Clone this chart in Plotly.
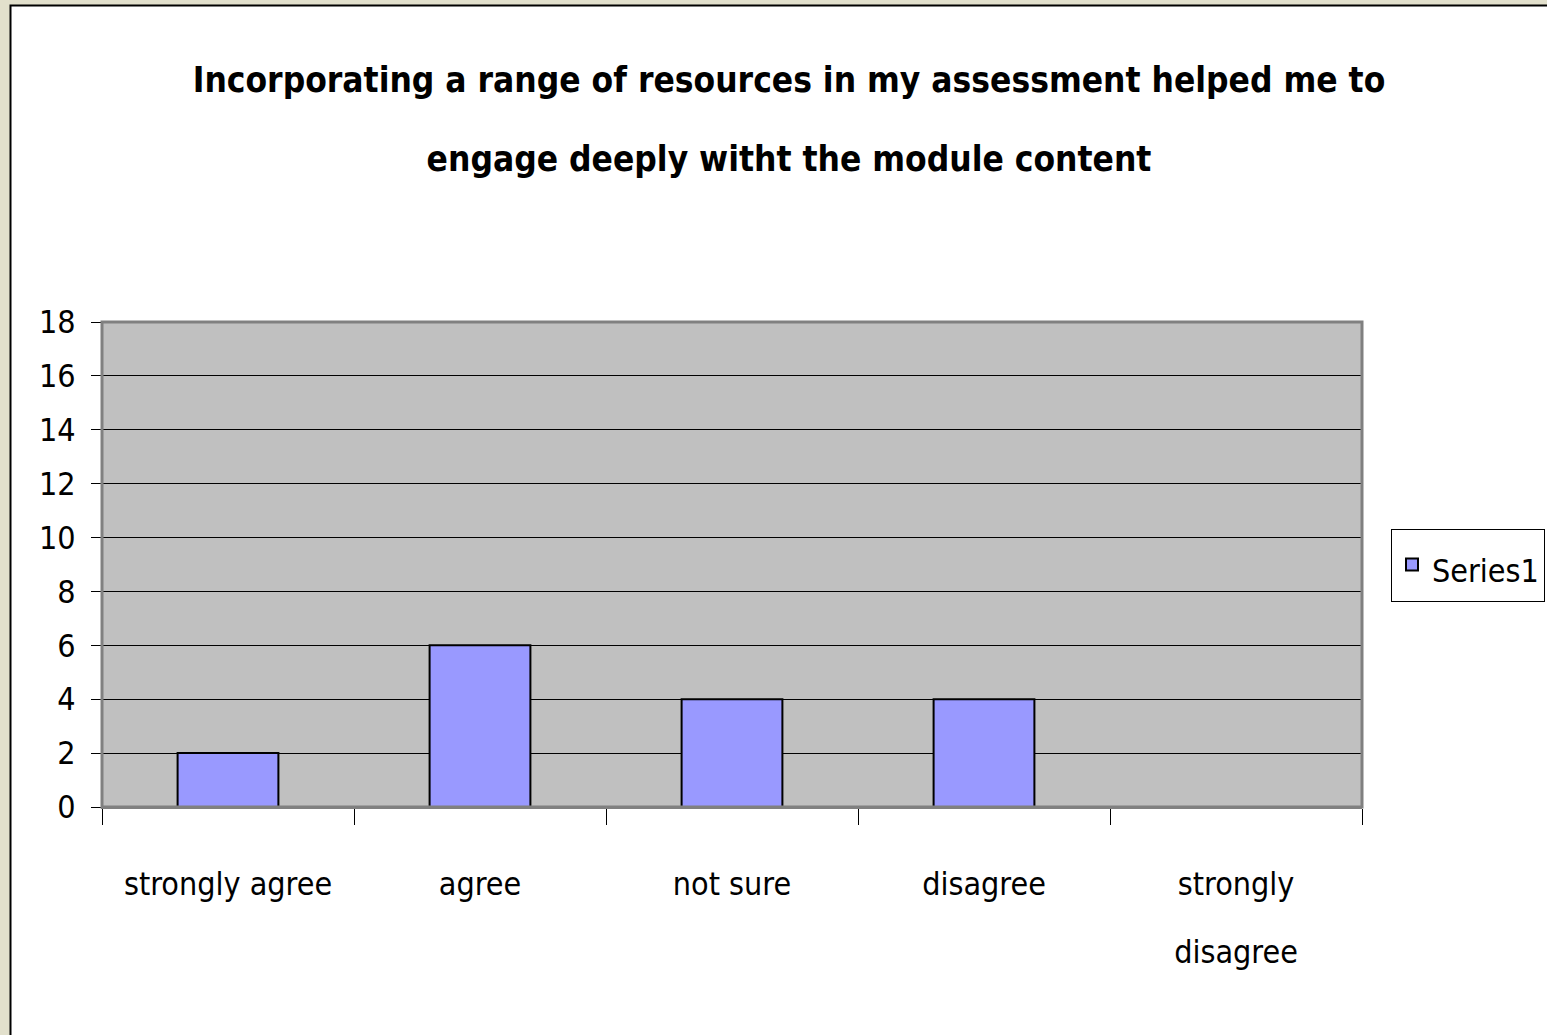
import plotly.graph_objects as go

categories = ["strongly agree", "agree", "not sure", "disagree", "strongly disagree"]
tick_labels = ["strongly agree", "agree", "not sure", "disagree", "strongly<br>disagree"]
values = [2, 6, 4, 4, 0]
series_name = "Series1"
title_lines = ["Incorporating a range of resources in my assessment helped me to",
               "engage deeply witht the module content"]
y_ticks = list(range(0, 20, 2))

FONT = "DejaVu Sans Condensed, Liberation Sans, sans-serif"
W, H = 1547, 1035
L, R, T, B = 102, 1362, 322, 807  # plot area pixels

def px_x(p):
    return (p - L) / (R - L)

def px_y(p):
    return (B - p) / (B - T)

fig = go.Figure()
fig.add_trace(go.Bar(
    x=categories, y=values,
    name=f"<span style='font-size:32px'>{series_name}</span>",
    marker=dict(color="#9999FF", line=dict(color="black", width=2)),
    showlegend=True,
))

title_text = "<br>".join(f"<span style='font-size:35px'><b>{t}</b></span>" for t in title_lines)

fig.update_layout(
    template="none",
    width=W, height=H,
    margin=dict(l=L, r=W - R, t=T, b=H - B, pad=0, autoexpand=False),
    paper_bgcolor="#E2E0CC",
    plot_bgcolor="#C0C0C0",
    bargap=0.6,
    font=dict(family=FONT, color="black", size=32),
    title=dict(text=title_text, x=789 / W, xanchor="center",
               y=1 - 92 / H, yanchor="middle", xref="container", yref="container",
               font=dict(family=FONT, size=61, color="black")),
    legend=dict(xref="container", yref="container",
                x=1391 / W, xanchor="left", y=1 - 565 / H, yanchor="middle",
                bgcolor="white", bordercolor="black", borderwidth=1,
                font=dict(family=FONT, size=44, color="black")),
    xaxis=dict(
        type="category", categoryorder="array", categoryarray=categories,
        tickmode="array", tickvals=categories,
        ticktext=[f"<span style='font-size:32px'>{t}</span>" for t in tick_labels],
        tickfont=dict(family=FONT, size=52, color="black"),
        tickangle=0, automargin=False,
        tickson="boundaries", ticks="outside", ticklen=16, tickcolor="black", tickwidth=1,
        showline=True, linecolor="#808080", linewidth=2,
        showgrid=False, zeroline=False,
        ticklabelstandoff=24,
    ),
    yaxis=dict(
        range=[0, 18], tickmode="array", tickvals=y_ticks, automargin=False,
        ticks="outside", ticklen=10, tickcolor="black", tickwidth=1,
        tickfont=dict(family=FONT, size=32, color="black"),
        showgrid=True, gridcolor="black", gridwidth=1,
        showline=True, linecolor="black", linewidth=1,
        zeroline=False, ticklabelstandoff=9,
    ),
    shapes=[
        dict(type="rect", xref="paper", yref="paper",
             x0=px_x(10.5), x1=px_x(1700), y0=px_y(1200), y1=px_y(5.5),
             fillcolor="white", line=dict(color="black", width=2), layer="below"),
        dict(type="rect", xref="paper", yref="paper",
             x0=0, x1=1, y0=0, y1=1,
             fillcolor="#C0C0C0", line=dict(width=0), layer="below"),
        dict(type="rect", xref="paper", yref="paper",
             x0=0, x1=1, y0=0, y1=1,
             fillcolor="rgba(0,0,0,0)", line=dict(color="#808080", width=3), layer="above"),
    ],
)

fig.write_html("out.html", config={"displayModeBar": False},
               post_script="document.body.style.margin='0';")
